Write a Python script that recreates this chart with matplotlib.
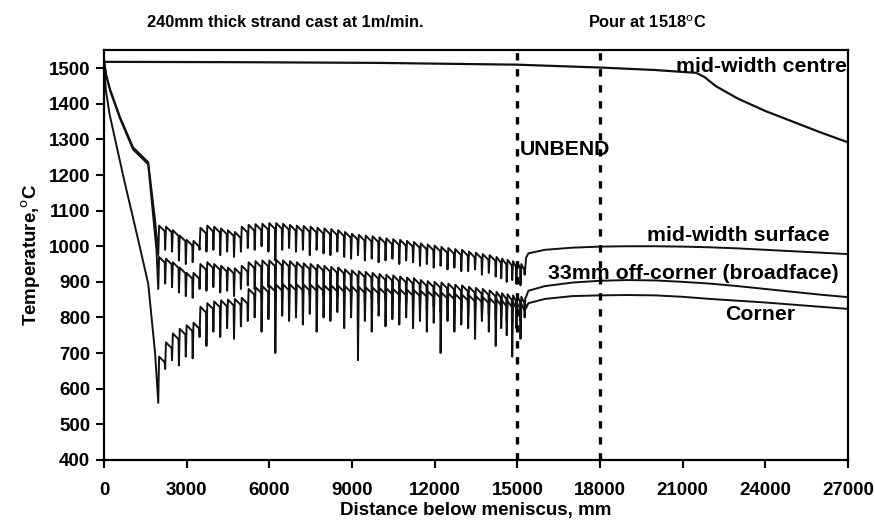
import matplotlib
matplotlib.use("Agg")
import matplotlib.pyplot as plt

# roll contact positions along the strand (mm)
roll_x = [1950, 2200, 2450, 2700, 2950, 3200, 3450, 3700, 3950, 4200,
          4450, 4700, 4950, 5200, 5450, 5700, 5950, 6200, 6450, 6700,
          6950, 7200, 7450, 7700, 7950, 8200, 8450, 8700, 8950, 9200,
          9450, 9700, 9950, 10200, 10450, 10700, 10950, 11200, 11450, 11700,
          11950, 12200, 12450, 12700, 12950, 13200, 13450, 13700, 13950, 14200,
          14400, 14600, 14800, 14950, 15100, 15250]

# mid-width surface: reheated peak after each roll and minimum at the roll
mws_top = [1058, 1055, 1045, 1030, 1018, 1015, 1052, 1058, 1055, 1050,
           1045, 1040, 1055, 1060, 1062, 1063, 1065, 1065, 1063, 1060,
           1058, 1057, 1055, 1052, 1050, 1048, 1045, 1040, 1035, 1032,
           1030, 1028, 1025, 1022, 1020, 1018, 1015, 1012, 1008, 1005,
           1002, 998, 995, 992, 990, 985, 982, 978, 975, 970,
           965, 962, 958, 955, 950, 948]
mws_low = [975, 990, 985, 960, 950, 955, 990, 985, 990, 975,
           985, 970, 985, 995, 990, 1000, 985, 960, 990, 995,
           985, 990, 975, 990, 980, 975, 985, 970, 965, 975,
           960, 965, 955, 960, 965, 950, 960, 955, 945, 950,
           940, 945, 935, 940, 930, 930, 935, 920, 925, 915,
           910, 900, 905, 895, 890, 920]

# 33mm off-corner (broadface)
occ_top = [970, 965, 955, 940, 925, 925, 950, 955, 950, 945,
           940, 938, 945, 955, 958, 960, 960, 962, 960, 958,
           955, 952, 950, 948, 945, 942, 940, 935, 932, 930,
           928, 925, 922, 920, 918, 915, 912, 910, 905, 902,
           900, 898, 895, 892, 890, 886, 883, 880, 876, 872,
           868, 865, 862, 860, 858, 856]
occ_low = [880, 895, 885, 870, 860, 855, 880, 875, 885, 870,
           875, 860, 880, 890, 880, 875, 885, 850, 880, 875,
           880, 870, 865, 880, 860, 870, 855, 865, 850, 860,
           845, 855, 840, 850, 835, 845, 840, 830, 835, 820,
           830, 815, 825, 810, 820, 805, 815, 800, 810, 795,
           800, 790, 785, 780, 790, 820]

# corner
cor_top = [690, 730, 755, 768, 778, 785, 830, 840, 845, 848,
           850, 852, 855, 880, 885, 888, 890, 892, 893, 893,
           893, 892, 892, 891, 890, 890, 889, 888, 887, 886,
           885, 884, 883, 882, 880, 879, 878, 877, 875, 874,
           872, 870, 868, 866, 864, 862, 860, 857, 854, 851,
           848, 846, 843, 840, 838, 836]
cor_low = [560, 655, 680, 665, 690, 685, 745, 720, 760, 745,
           770, 740, 775, 790, 800, 760, 795, 700, 805, 790,
           800, 780, 810, 760, 800, 790, 815, 770, 800, 680,
           790, 760, 805, 775, 795, 780, 800, 770, 790, 760,
           785, 700, 790, 760, 780, 770, 740, 790, 760, 720,
           770, 750, 690, 770, 740, 800]

# cooling between rolls: drop from reheated peak to just before next roll (degC)
sag = 16

# smooth parts: mould / upper zone and beyond the last roll
mws_in_x = [0, 80, 220, 580, 1050, 1600, 1850]
mws_in_y = [1518, 1480, 1440, 1362, 1278, 1236, 1073]
occ_in_x = [0, 80, 220, 580, 1050, 1600, 1900]
occ_in_y = [1518, 1478, 1436, 1358, 1272, 1230, 990]
cor_in_x = [0, 60, 200, 700, 1200, 1600, 1850]
cor_in_y = [1518, 1440, 1370, 1195, 1030, 895, 700]

out_x = [15320, 15400, 16000, 17000, 18000, 19000, 20000, 21000, 22000, 23000, 24000, 25000, 26000, 27000]
mws_out = [968, 980, 990, 996, 999, 1000, 1000, 999, 997, 994, 990, 986, 982, 978]
occ_out = [858, 875, 888, 898, 903, 905, 904, 900, 895, 888, 880, 872, 864, 857]
cor_out = [826, 840, 852, 860, 862, 863, 862, 858, 852, 847, 842, 836, 830, 824]

centre_x = [0, 5000, 10000, 15000, 18000, 20000, 21500, 21800, 22200, 23000, 24000, 25000, 26000, 27000]
centre_y = [1518, 1517, 1515, 1510, 1502, 1495, 1487, 1475, 1450, 1415, 1380, 1350, 1320, 1292]


def strand_curve(in_x, in_y, top, low, o_y):
    xs, ys = list(in_x), list(in_y)
    prev = None
    for x, t, l in zip(roll_x, top, low):
        if prev is not None:
            xs.append(x)
            ys.append(prev - sag)
        xs += [x + 15, x + 45]
        ys += [l, t]
        prev = t
    return xs + out_x, ys + o_y


fig, ax = plt.subplots(figsize=(8.75, 5.31), dpi=100)
fig.subplots_adjust(left=0.119, right=0.969, bottom=0.134, top=0.905)

lc = "#111111"
ax.plot(centre_x, centre_y, color=lc, lw=1.6)
for in_x, in_y, top, low, o_y in [(mws_in_x, mws_in_y, mws_top, mws_low, mws_out),
                                  (occ_in_x, occ_in_y, occ_top, occ_low, occ_out),
                                  (cor_in_x, cor_in_y, cor_top, cor_low, cor_out)]:
    xs, ys = strand_curve(in_x, in_y, top, low, o_y)
    ax.plot(xs, ys, color=lc, lw=1.4)

for xv in [15000, 18000]:
    ax.axvline(xv, color="black", lw=2.4, linestyle=(0, (2.2, 2.6)))

ax.set_xlim(0, 27000)
ax.set_ylim(400, 1550)
ax.set_xticks(range(0, 27001, 3000))
ax.set_yticks(range(400, 1501, 100))

bold = ["Liberation Sans", "DejaVu Sans"]
for lab in ax.get_xticklabels() + ax.get_yticklabels():
    lab.set_fontfamily(bold)
    lab.set_fontweight("bold")
    lab.set_fontsize(13.5)
ax.tick_params(direction="out", length=6, width=1.5, pad=4)
ax.tick_params(axis="x", pad=10)
for sp in ax.spines.values():
    sp.set_linewidth(1.6)

ax.set_xlabel("Distance below meniscus, mm", family=bold, weight="bold", fontsize=13.5, labelpad=2)
ax.set_ylabel("Temperature,$^{\\rm o}$C", family=bold, weight="bold", fontsize=13.5, labelpad=4)

fig.text(0.326, 0.958, "240mm thick strand cast at 1m/min.", family=bold, weight="bold",
         fontsize=11.8, ha="center", va="center")
fig.text(0.740, 0.958, "Pour at 1518$^{\\rm o}$C", family=bold, weight="bold",
         fontsize=11.8, ha="center", va="center")

tk = dict(family=bold, weight="bold", fontsize=15.3)
ax.text(26950, 1505, "mid-width centre", ha="right", va="center", **tk)
ax.text(15080, 1272, "UNBEND", ha="left", va="center", **tk)
ax.text(26350, 1031, "mid-width surface", ha="right", va="center", **tk)
ax.text(26650, 924, "33mm off-corner (broadface)", ha="right", va="center", **tk)
ax.text(23800, 809, "Corner", ha="center", va="center", **tk)

fig.savefig("out.png", dpi=100)
